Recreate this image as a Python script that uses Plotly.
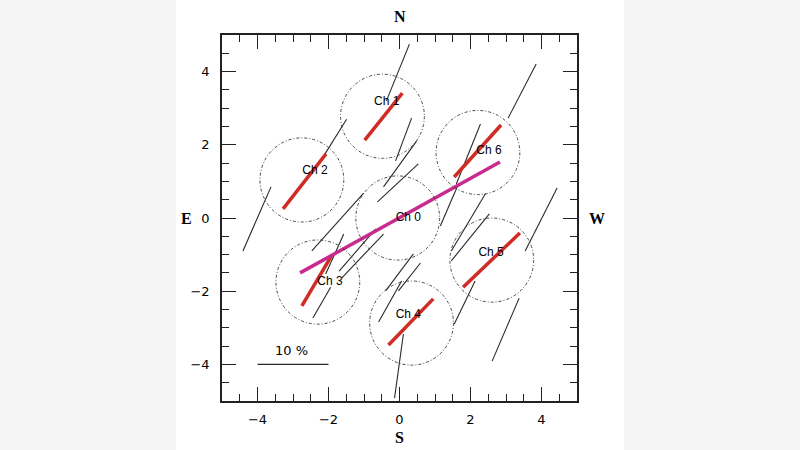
import plotly.graph_objects as go

# ---- data (map offsets, arcmin) ----
chan_names = ["Ch 0", "Ch 1", "Ch 2", "Ch 3", "Ch 4", "Ch 5", "Ch 6"]
circle_x = [-0.05, -0.48, -2.75, -2.30, 0.34, 2.60, 2.21]
circle_y = [0.00, 2.78, 1.04, -1.75, -2.87, -1.15, 1.79]
circle_rx = 1.18
circle_ry = 1.15
label_x = [0.25, -0.36, -2.38, -1.96, 0.25, 2.58, 2.52]
label_y = [0.00, 3.17, 1.28, -1.75, -2.65, -0.96, 1.83]

# red vectors (channels 1..6)
red_x0 = [-0.98, -3.28, -2.75, -0.31, 1.79, 1.54]
red_y0 = [2.13, 0.25, -2.40, -3.47, -1.89, 1.12]
red_x1 = [0.08, -2.07, -1.90, 0.95, 3.39, 2.86]
red_y1 = [3.41, 1.75, -1.01, -2.21, -0.41, 2.54]

# magenta vector
mag_x = [-2.80, 2.83]
mag_y = [-1.50, 1.53]

# black polarization vectors
blk_x0 = [0.28, 3.85, -1.49, 0.34, 0.48, 0.53, 2.28, 1.66, -3.62, -1.01, -1.57, -0.45,
          0.39, 0.59, -1.94, 0.06, 0.11, 3.37, 2.13, 4.44, 2.42, 2.53, -0.67]
blk_y0 = [4.75, 4.21, 2.70, 2.73, 2.10, 1.48, 2.57, 0.93, 0.85, 0.68, -0.44, -0.44,
          -0.98, -1.23, -1.89, -1.72, -3.17, -2.19, -1.72, 0.82, 0.66, 0.11, -0.30]
blk_x1 = [-0.37, 3.06, -2.22, -0.11, -0.45, -0.62, 1.60, 1.15, -4.41, -2.47, -2.08, -1.63,
          -0.39, -0.03, -2.44, -0.59, -0.14, 2.61, 1.54, 3.54, 1.46, 1.46, -1.70]
blk_y1 = [3.20, 2.73, 1.56, 1.56, 0.85, 0.44, 0.93, -0.22, -0.90, -0.90, -1.53, -1.64,
          -1.99, -1.99, -2.73, -2.84, -4.92, -3.91, -2.90, -0.90, -0.90, -1.17, -1.45]

# scale bar (10 %)
bar_x = [-4.0, -2.0]
bar_y = [-4.0, -4.0]
bar_label = "10 %"

tick_vals = [-4, -2, 0, 2, 4]
tick_text = ["\u22124", "\u22122", "0", "2", "4"]


def segs(x0, y0, x1, y1):
    xs, ys = [], []
    for a, b, c, d in zip(x0, y0, x1, y1):
        xs += [a, c, None]
        ys += [b, d, None]
    return xs, ys


fig = go.Figure()

bx, by = segs(blk_x0, blk_y0, blk_x1, blk_y1)
fig.add_trace(go.Scatter(x=bx, y=by, mode="lines",
                         line=dict(color="#2a2a2a", width=1.1), hoverinfo="skip"))

fig.add_trace(go.Scatter(x=bar_x, y=bar_y, mode="lines",
                         line=dict(color="#2a2a2a", width=1.2), hoverinfo="skip"))

rx, ry = segs(red_x0, red_y0, red_x1, red_y1)
fig.add_trace(go.Scatter(x=rx, y=ry, mode="lines",
                         line=dict(color="#d02b25", width=3.5), hoverinfo="skip"))

fig.add_trace(go.Scatter(x=mag_x, y=mag_y, mode="lines",
                         line=dict(color="#c92a8e", width=3.5), hoverinfo="skip"))

fig.add_trace(go.Scatter(x=label_x, y=label_y, mode="text", text=chan_names,
                         textfont=dict(family="Liberation Sans", size=12, color="#000000"),
                         hoverinfo="skip"))

L, R, T, B = 222, 223, 35, 49
W, H = 800, 450
pw = W - L - R
ph = H - T - B

shapes = []
for cx, cy in zip(circle_x, circle_y):
    shapes.append(dict(type="circle", xref="x", yref="y",
                       x0=cx - circle_rx, x1=cx + circle_rx,
                       y0=cy - circle_ry, y1=cy + circle_ry,
                       line=dict(color="#333333", width=0.9, dash="3px,2px,1px,2px")))

# blurred side panels of the scanned page
shapes.append(dict(type="rect", xref="paper", yref="paper",
                   x0=-(L) / pw, x1=-(L - 176) / pw, y0=-B / ph, y1=(H - B) / ph,
                   fillcolor="#f5f5f5", line=dict(width=0), layer="below"))
shapes.append(dict(type="rect", xref="paper", yref="paper",
                   x0=1 + (624 - (W - R)) / pw, x1=1 + R / pw, y0=-B / ph, y1=(H - B) / ph,
                   fillcolor="#f5f5f5", line=dict(width=0), layer="below"))

dir_font = dict(family="Liberation Serif", size=16, color="#000")
annotations = [
    dict(text="<b>N</b>", x=0.5, y=1 + 18 / ph, xref="paper", yref="paper", showarrow=False,
         font=dir_font, yanchor="middle"),
    dict(text="<b>S</b>", x=0.5, y=-(437 - (H - B)) / ph, xref="paper", yref="paper",
         showarrow=False, font=dir_font, yanchor="middle"),
    dict(text="<b>E</b>", x=-(L - 186) / pw, y=0, xref="paper", yref="y", showarrow=False,
         font=dir_font, xanchor="center"),
    dict(text="<b>W</b>", x=1 + (597 - (W - R)) / pw, y=0, xref="paper", yref="y",
         showarrow=False, font=dir_font, xanchor="center"),
    dict(text=bar_label, x=-3.05, y=-3.62, xref="x", yref="y", showarrow=False,
         font=dict(family="DejaVu Sans", size=13, color="#000")),
]

axis_common = dict(
    range=[-5, 5], tickvals=tick_vals, ticktext=tick_text,
    ticks="inside", ticklen=14, tickwidth=1.2, tickcolor="#222",
    showline=True, linecolor="#222", linewidth=1.6, mirror="allticks",
    showgrid=False, zeroline=False,
    minor=dict(dtick=0.5, tick0=0, ticks="inside", ticklen=7, tickwidth=1.1,
               tickcolor="#222", showgrid=False),
    tickfont=dict(family="DejaVu Sans", size=13, color="#000"),
    fixedrange=True,
)

fig.update_layout(
    width=W, height=H,
    margin=dict(l=L, r=R, t=T, b=B),
    paper_bgcolor="white", plot_bgcolor="white",
    showlegend=False,
    xaxis=dict(**axis_common, ticklabelstandoff=6),
    yaxis=dict(**axis_common, ticklabelstandoff=8),
    shapes=shapes,
    annotations=annotations,
)

fig.write_html("out.html", config={"displayModeBar": False},
               post_script="document.body.style.margin='0';document.body.style.padding='0';")
